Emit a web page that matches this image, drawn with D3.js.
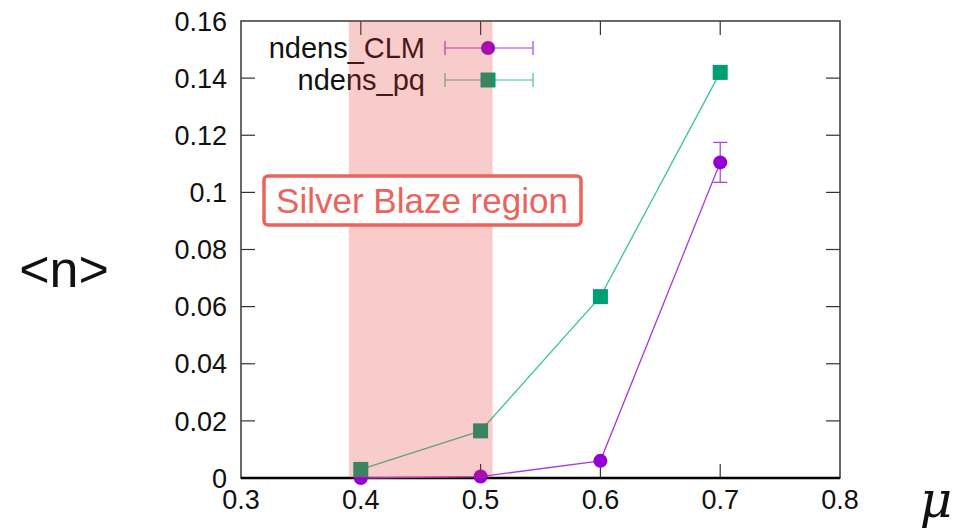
<!DOCTYPE html>
<html>
<head>
<meta charset="utf-8">
<script src="https://cdn.jsdelivr.net/npm/d3@7"></script>
<style>
  body { margin: 0; background: #fff; }
  svg { display: block; font-family: "Liberation Sans", Arial, sans-serif; }
</style>
</head>
<body>
<div id="chart"></div>
<script>
const mu = [0.4, 0.5, 0.6, 0.7];
const clmValues = [0.0, 0.0005, 0.006, 0.1105];
const clmErrors = [0.0, 0.0, 0.0, 0.007];
const pqValues = [0.003, 0.0165, 0.0635, 0.142];
const pqErrors = [0.0, 0.0, 0.0, 0.0012];
const xTicks = [0.3, 0.4, 0.5, 0.6, 0.7, 0.8];
const yTicks = [0, 0.02, 0.04, 0.06, 0.08, 0.1, 0.12, 0.14, 0.16];
const silverBlaze = [0.39, 0.51];

const series = [
  { name: "ndens_CLM", values: clmValues, errors: clmErrors, color: "#9400d3", line: "#a83ae0", shape: "circle" },
  { name: "ndens_pq", values: pqValues, errors: pqErrors, color: "#009e73", line: "#3cc496", shape: "square" },
];

const width = 965, height = 531;
const margin = { top: 21, right: 125, bottom: 53, left: 241 };

const svg = d3.select("#chart").append("svg")
  .attr("width", width)
  .attr("height", height);

const x = d3.scaleLinear().domain([0.3, 0.8]).range([margin.left, width - margin.right]);
const y = d3.scaleLinear().domain([0, 0.16]).range([height - margin.bottom, margin.top]);

const tickLen = 14;

// ticks (inward, mirrored)
const g = svg.append("g").attr("stroke", "#333").attr("stroke-width", 1.2);
yTicks.slice(1, -1).forEach((t) => {
  g.append("line").attr("x1", x(0.3)).attr("x2", x(0.3) + tickLen).attr("y1", y(t)).attr("y2", y(t));
  g.append("line").attr("x1", x(0.8)).attr("x2", x(0.8) - tickLen).attr("y1", y(t)).attr("y2", y(t));
});
xTicks.slice(1, -1).forEach((t) => {
  g.append("line").attr("x1", x(t)).attr("x2", x(t)).attr("y1", y(0)).attr("y2", y(0) - tickLen);
  g.append("line").attr("x1", x(t)).attr("x2", x(t)).attr("y1", y(0.16)).attr("y2", y(0.16) + tickLen);
});

// frame
svg.append("rect")
  .attr("x", x(0.3)).attr("y", y(0.16))
  .attr("width", x(0.8) - x(0.3)).attr("height", y(0) - y(0.16))
  .attr("fill", "none").attr("stroke", "#444").attr("stroke-width", 1.6);
svg.append("line")
  .attr("x1", x(0.3)).attr("x2", x(0.8)).attr("y1", y(0)).attr("y2", y(0))
  .attr("stroke", "#000").attr("stroke-width", 2.6);

// tick labels
svg.append("g").selectAll("text").data(yTicks).join("text")
  .attr("x", x(0.3) - 14).attr("y", (d) => y(d))
  .attr("dy", "0.36em").attr("text-anchor", "end")
  .attr("font-size", 27).attr("fill", "#111")
  .text((d) => d3.format("~g")(d));
svg.append("g").selectAll("text").data(xTicks).join("text")
  .attr("x", (d) => x(d)).attr("y", y(0) + 21)
  .attr("dy", "0.36em")
  .attr("text-anchor", "middle")
  .attr("font-size", 27).attr("fill", "#111")
  .text((d) => d3.format(".1f")(d));

// axis titles
svg.append("text").attr("x", 64).attr("y", 268).attr("dy", "0.36em").attr("text-anchor", "middle")
  .attr("font-size", 52).attr("fill", "#111").text("<n>");
svg.append("text").attr("x", 936).attr("y", 517).attr("text-anchor", "middle")
  .attr("font-family", "DejaVu Serif").attr("font-style", "italic")
  .attr("font-size", 50).attr("fill", "#111").text("μ");

// legend
const legend = svg.append("g");
series.forEach((s, i) => {
  const ly = 48 + i * 32;
  legend.append("text").attr("x", 425).attr("y", ly).attr("dy", "0.36em")
    .attr("text-anchor", "end").attr("font-size", 29).attr("fill", "#111").text(s.name);
  legend.append("line").attr("x1", 445).attr("x2", 533).attr("y1", ly).attr("y2", ly)
    .attr("stroke", s.line).attr("stroke-width", 1.2);
  [445, 533].forEach((cx) => legend.append("line").attr("x1", cx).attr("x2", cx)
    .attr("y1", ly - 7).attr("y2", ly + 7).attr("stroke", s.line).attr("stroke-width", 1.2));
  drawMarker(legend, s, 488, ly);
});

function drawMarker(sel, s, cx, cy) {
  if (s.shape === "circle") {
    sel.append("circle").attr("cx", cx).attr("cy", cy).attr("r", 7).attr("fill", s.color);
  } else {
    sel.append("rect").attr("x", cx - 7.5).attr("y", cy - 7.5).attr("width", 15).attr("height", 15).attr("fill", s.color);
  }
}

// data
const line = d3.line().x((d) => x(d.mu)).y((d) => y(d.v));
series.forEach((s) => {
  const pts = mu.map((m, i) => ({ mu: m, v: s.values[i], e: s.errors[i] }));
  const gs = svg.append("g");
  gs.append("path").datum(pts).attr("d", line)
    .attr("fill", "none").attr("stroke", s.line).attr("stroke-width", 1.3);
  pts.filter((p) => p.e > 0).forEach((p) => {
    gs.append("line").attr("x1", x(p.mu)).attr("x2", x(p.mu))
      .attr("y1", y(p.v - p.e)).attr("y2", y(p.v + p.e)).attr("stroke", s.line).attr("stroke-width", 1.2);
    [p.v - p.e, p.v + p.e].forEach((v) => gs.append("line")
      .attr("x1", x(p.mu) - 7).attr("x2", x(p.mu) + 7).attr("y1", y(v)).attr("y2", y(v))
      .attr("stroke", s.line).attr("stroke-width", 1.2));
  });
  pts.forEach((p) => drawMarker(gs, s, x(p.mu), y(p.v)));
});

// silver blaze shading (overlay)
svg.append("rect")
  .attr("x", x(silverBlaze[0])).attr("y", y(0.16))
  .attr("width", x(silverBlaze[1]) - x(silverBlaze[0]))
  .attr("height", y(0) - y(0.16))
  .attr("fill", "rgb(230,50,50)").attr("fill-opacity", 0.25);

// label box
const label = svg.append("g");
label.append("rect").attr("x", 264).attr("y", 176).attr("width", 317).attr("height", 49)
  .attr("rx", 4).attr("fill", "#fff").attr("stroke", "#ec625c").attr("stroke-width", 3.5);
label.append("text").attr("x", 422).attr("y", 200).attr("dy", "0.36em")
  .attr("text-anchor", "middle").attr("font-size", 35).attr("fill", "#ec625c")
  .text("Silver Blaze region");
</script>
</body>
</html>
